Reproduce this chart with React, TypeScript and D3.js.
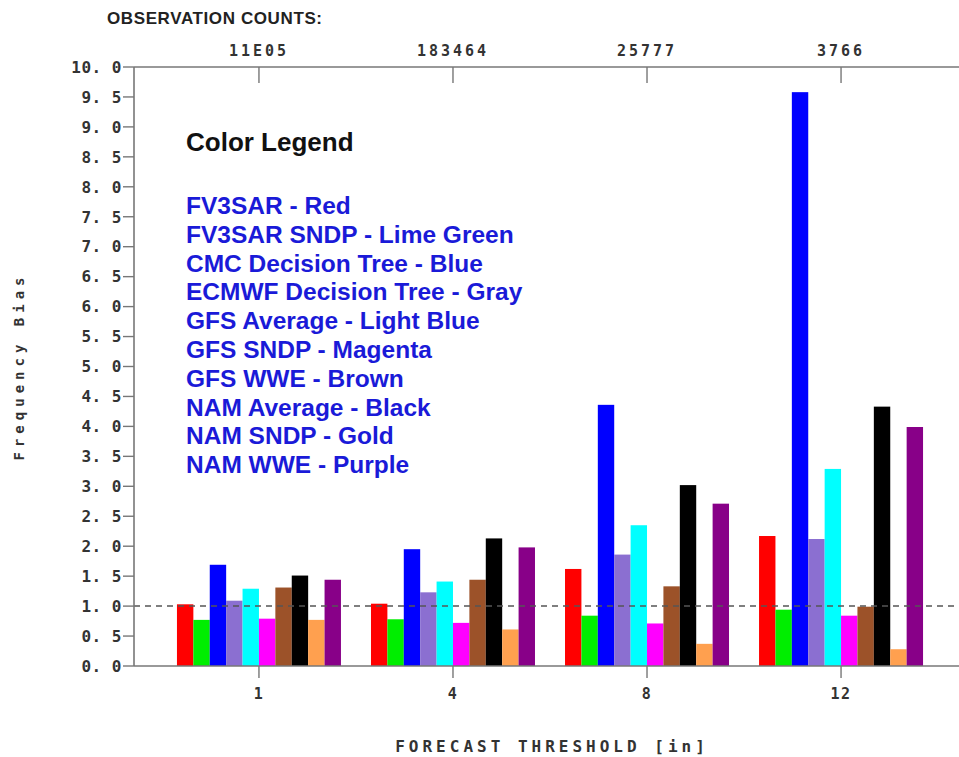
import * as d3 from "d3"

const thresholds = ["1", "4", "8", "12"]
const obsCounts = ["11E05", "183464", "25777", "3766"]

const models = [
  "FV3SAR",
  "FV3SAR SNDP",
  "CMC Decision Tree",
  "ECMWF Decision Tree",
  "GFS Average",
  "GFS SNDP",
  "GFS WWE",
  "NAM Average",
  "NAM SNDP",
  "NAM WWE",
]
const colorNames = ["Red", "Lime Green", "Blue", "Gray", "Light Blue", "Magenta", "Brown", "Black", "Gold", "Purple"]
const colors = ["#ff0000", "#00ee00", "#0000ff", "#8b6fd1", "#00ffff", "#ff00ff", "#9c5229", "#000000", "#ffa04f", "#880088"]

// frequency bias per model, one value per threshold
const fv3sar = [1.03, 1.04, 1.62, 2.17]
const fv3sarSndp = [0.77, 0.78, 0.84, 0.94]
const cmcTree = [1.69, 1.95, 4.36, 9.58]
const ecmwfTree = [1.09, 1.23, 1.86, 2.12]
const gfsAverage = [1.29, 1.41, 2.35, 3.29]
const gfsSndp = [0.79, 0.72, 0.71, 0.84]
const gfsWwe = [1.31, 1.44, 1.33, 0.99]
const namAverage = [1.51, 2.13, 3.02, 4.33]
const namSndp = [0.77, 0.61, 0.37, 0.28]
const namWwe = [1.44, 1.98, 2.71, 3.99]

const series = [fv3sar, fv3sarSndp, cmcTree, ecmwfTree, gfsAverage, gfsSndp, gfsWwe, namAverage, namSndp, namWwe]

const yTicks = d3.range(0, 10.001, 0.5)

export default function App() {
  const width = 959
  const height = 757
  const left = 134
  const right = 966
  const top = 67
  const bottom = 666

  const x = d3.scalePoint<string>().domain(thresholds).range([left, right]).padding(0.644)
  const inner = d3.scaleBand<string>().domain(models).range([-82, 82]).padding(0)
  const y = d3.scaleLinear().domain([0, 10]).range([bottom, top])

  const mono = "'DejaVu Sans Mono', monospace"
  const sans = "'Liberation Sans', Arial, sans-serif"

  const bars = []
  series.forEach((vals, i) => {
    vals.forEach((v, j) => {
      bars.push({ model: models[i], color: colors[i], value: v, group: thresholds[j] })
    })
  })

  return (
    <svg
      width={width}
      height={height}
      style={{ position: "absolute", left: 0, top: 0, background: "#fff" }}
    >
      {/* title of the top axis */}
      <text x={107} y={24} fontFamily={sans} fontWeight="bold" fontSize={17} fill="#222" textLength={215}>
        OBSERVATION COUNTS:
      </text>

      {/* bars */}
      {bars.map((d, k) => (
        <rect
          key={k}
          x={x(d.group)! + inner(d.model)!}
          y={y(d.value)}
          width={inner.bandwidth()}
          height={y(0) - y(d.value)}
          fill={d.color}
        />
      ))}

      {/* reference line at 1.0 */}
      <line x1={left} x2={width} y1={y(1)} y2={y(1)} stroke="#555" strokeWidth={1.5} strokeDasharray="6,5" />

      {/* axes */}
      <line x1={left} x2={width} y1={top} y2={top} stroke="#777" strokeWidth={1.6} />
      <line x1={left} x2={width} y1={bottom} y2={bottom} stroke="#777" strokeWidth={1.6} />
      <line x1={left} x2={left} y1={top} y2={bottom} stroke="#777" strokeWidth={1.6} />

      {yTicks.map((t) => (
        <g key={t}>
          <line x1={left - 11} x2={left} y1={y(t)} y2={y(t)} stroke="#777" strokeWidth={1.4} />
          <text
            x={122}
            y={y(t)}
            dy="0.36em"
            textAnchor="end"
            fontFamily={mono}
            fontWeight="bold"
            fontSize={16}
            letterSpacing={0.5}
            fill="#333"
          >
            {t.toFixed(1).replace(".", ". ")}
          </text>
        </g>
      ))}

      {thresholds.map((t, i) => (
        <g key={t}>
          <line x1={x(t)} x2={x(t)} y1={top} y2={top + 16} stroke="#777" strokeWidth={1.4} />
          <text
            x={x(t)}
            y={56}
            textAnchor="middle"
            fontFamily={mono}
            fontWeight="bold"
            fontSize={15}
            letterSpacing={3}
            fill="#333"
          >
            {obsCounts[i]}
          </text>
          <line x1={x(t)} x2={x(t)} y1={bottom} y2={bottom + 12} stroke="#777" strokeWidth={1.4} />
          <text
            x={x(t)}
            y={699}
            textAnchor="middle"
            fontFamily={mono}
            fontWeight="bold"
            fontSize={15}
            letterSpacing={1.5}
            fill="#333"
          >
            {t}
          </text>
        </g>
      ))}

      {/* axis titles */}
      <text
        x={552}
        y={752}
        textAnchor="middle"
        fontFamily={mono}
        fontWeight="bold"
        fontSize={16}
        letterSpacing={4}
        fill="#333"
      >
        FORECAST THRESHOLD [in]
      </text>
      <text
        transform={`translate(24, ${(top + bottom) / 2}) rotate(-90)`}
        textAnchor="middle"
        fontFamily={mono}
        fontWeight="bold"
        fontSize={14}
        letterSpacing={5}
        fill="#333"
      >
        Frequency Bias
      </text>

      {/* colour legend */}
      <text x={186} y={151} fontFamily={sans} fontWeight="bold" fontSize={26} fill="#111">
        Color Legend
      </text>
      {models.map((m, i) => (
        <text
          key={m}
          x={186}
          y={214 + i * 28.8}
          fontFamily={sans}
          fontWeight="bold"
          fontSize={24.5}
          fill="#1a1ad8"
        >
          {`${m} - ${colorNames[i]}`}
        </text>
      ))}
    </svg>
  )
}
